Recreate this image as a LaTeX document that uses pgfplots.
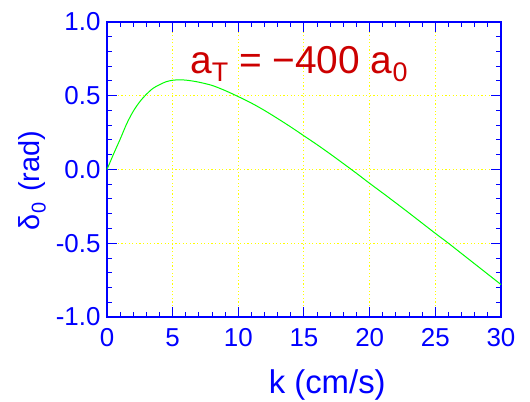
\documentclass[border=0pt]{standalone}
\usepackage{pgfplots}
\pgfplotsset{compat=1.18}
\usepackage{fontspec}
\setmainfont{Liberation Sans}
\definecolor{axblue}{RGB}{0,0,255}
\definecolor{tred}{RGB}{204,0,0}
\definecolor{gyel}{RGB}{255,255,0}
\definecolor{lgreen}{RGB}{0,255,0}
\begin{document}
\begin{tikzpicture}
\begin{axis}[
  scale only axis, width=394bp, height=295bp,
  at={(0,0)}, anchor=south west,
  clip=false,
  xmin=0, xmax=30, ymin=-1, ymax=1,
  xtick={0,5,...,30},
  ytick={-1,-0.5,0,0.5,1},
  yticklabels={-1.0,-0.5,0.0,0.5,1.0},
  minor x tick num=4, minor y tick num=4,
  tick align=inside,
  major tick length=10bp, minor tick length=5bp,
  axis line style={axblue, line width=1.2bp},
  every tick/.style={axblue, line width=1bp},
  tick label style={text=axblue, font=\fontsize{26}{26}\selectfont},
  /pgf/number format/assume math mode=true,
  xticklabel style={yshift=-8bp},
  yticklabel style={xshift=-3bp},
  grid=major,
  major grid style={gyel, line width=1bp, dash pattern=on 1.2bp off 2.4bp},
]
\addplot[lgreen, line width=1bp, smooth] coordinates {
(0,0) (0.5,0.105) (1,0.205) (1.5,0.31) (2,0.395) (2.5,0.46) (3,0.51) (3.5,0.55)
(4,0.575) (4.5,0.595) (5,0.605) (5.5,0.608) (6,0.606) (6.5,0.6) (7,0.592)
(8,0.57) (9,0.535) (10,0.494) (11,0.45) (12,0.4) (13,0.345) (14,0.288)
(15,0.228) (16,0.168) (17,0.105) (18,0.04) (19,-0.026) (20,-0.094)
(21,-0.16) (22,-0.227) (23,-0.295) (24,-0.364) (25,-0.433) (26,-0.5)
(27,-0.57) (28,-0.64) (29,-0.71) (30,-0.78)
};
\node[anchor=base west, text=tred, font=\fontsize{39}{39}\selectfont, inner sep=0pt]
  at (rel axis cs:0.211,0.827) {a\raisebox{-8bp}{\fontsize{27}{27}\selectfont T} = −400 a\raisebox{-8bp}{\fontsize{27}{27}\selectfont 0}};
\node[rotate=90, text=axblue, font=\fontsize{29}{29}\selectfont, inner sep=0pt]
  at (rel axis cs:-0.190,0.463) {δ\raisebox{-6bp}{\fontsize{20}{20}\selectfont 0}\hspace{3bp} (rad)};
\node[anchor=base, text=axblue, font=\fontsize{33}{33}\selectfont, inner sep=0pt]
  at (rel axis cs:0.559,-0.258) {k (cm/s)};
\end{axis}
\pgfresetboundingbox
\path[use as bounding box] (-107bp,-85bp) rectangle (423bp,317bp);
\end{tikzpicture}
\end{document}
